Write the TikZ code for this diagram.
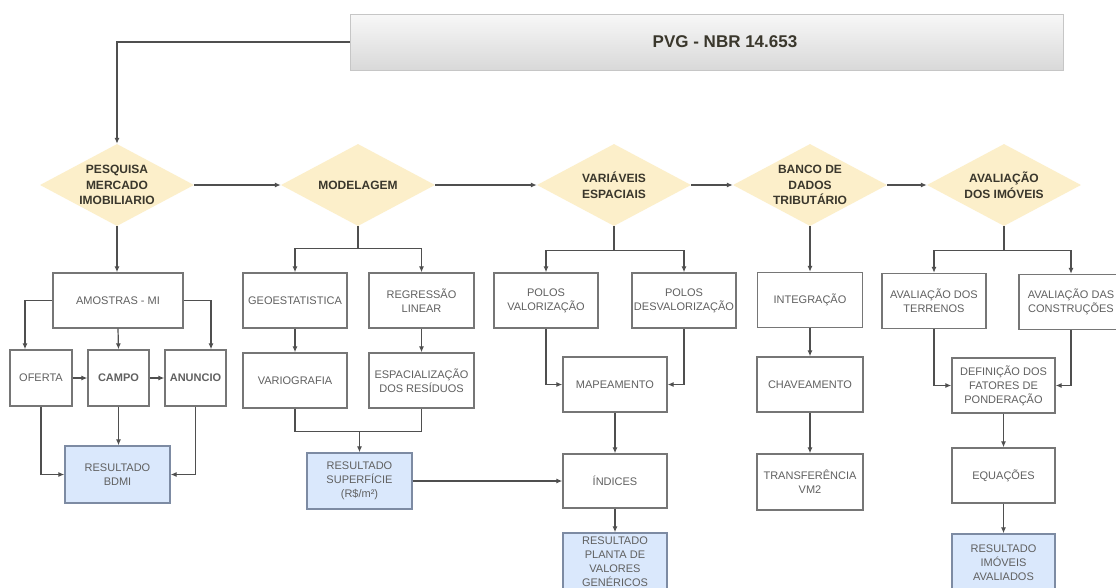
\documentclass[tikz,border=0pt]{standalone}
\usepackage{fontspec}
\setmainfont{Liberation Sans}
\usetikzlibrary{arrows.meta}
\usetikzlibrary{shapes.geometric}

\definecolor{linha}{HTML}{4F4F4F}
\definecolor{bordacx}{HTML}{767676}
\definecolor{textocx}{HTML}{606060}
\definecolor{amarelo}{HTML}{FCEFCA}
\definecolor{textolos}{HTML}{3A372C}
\definecolor{azul}{HTML}{DAE8FC}
\definecolor{bordaaz}{HTML}{7D8BA3}

\begin{document}
\begin{tikzpicture}[x=1pt, y=-1pt,
  caixa/.style={draw=bordacx, line width=1.3pt, fill=white, text=textocx,
    font=\fontsize{11}{14}\selectfont, align=center,
    minimum width=104pt, minimum height=55pt, inner sep=1pt},
  resultado/.style={caixa, fill=azul, draw=bordaaz},
  losango/.style={diamond, fill=amarelo, text=textolos,
    font=\bfseries\fontsize{12}{15.5}\selectfont, align=center,
    minimum width=154pt, minimum height=82pt, inner sep=0pt, aspect=1.9},
  titulo/.style={draw=gray!45, top color=gray!6, bottom color=gray!30,
    minimum width=713pt, minimum height=56pt},
  seta/.style={draw=linha, line width=1.2pt, -{Latex[length=6pt,width=5pt]}},
  liga/.style={draw=linha, line width=1.2pt}]
\useasboundingbox (0,0) rectangle (1116,587);
\clip (0,0) rectangle (1116,587);
\fill[white] (0,0) rectangle (1116,587);

\node[titulo] (titulo) at (706.5,42) {};
\node[text=textolos, font=\bfseries\fontsize{17}{20}\selectfont] (tittexto) at (725,42) {PVG - NBR 14.653};

\node[losango] (pesquisa) at (117,185) {PESQUISA\\MERCADO\\IMOBILIARIO};
\node[losango] (modelagem) at (358,185) {MODELAGEM};
\node[losango] (variaveis) at (614,185) {VARIÁVEIS\\ESPACIAIS};
\node[losango] (banco) at (810,185) {BANCO DE\\DADOS\\TRIBUTÁRIO};
\node[losango] (avaliacao) at (1004,185) {AVALIAÇÃO\\DOS IMÓVEIS};

\draw[seta] (titulo.west) -| (pesquisa.north);
\draw[seta] (pesquisa.east) -- (modelagem.west);
\draw[seta] (modelagem.east) -- (variaveis.west);
\draw[seta] (variaveis.east) -- (banco.west);
\draw[seta] (banco.east) -- (avaliacao.west);

\node[caixa, minimum width=130pt] (amostras) at (118,300.5) {AMOSTRAS - MI};
\node[caixa, minimum width=62pt, minimum height=56pt] (oferta) at (41,378) {OFERTA};
\node[caixa, minimum width=61pt, minimum height=56pt, font=\bfseries\fontsize{11}{14}\selectfont] (campo) at (118.5,378) {CAMPO};
\node[caixa, minimum width=61pt, minimum height=56pt, font=\bfseries\fontsize{11}{14}\selectfont] (anuncio) at (195.5,378) {ANUNCIO};
\node[resultado, minimum width=105pt, minimum height=57pt] (bdmi) at (117.5,474.5) {RESULTADO\\BDMI};

\draw[seta] (pesquisa.south) -- (pesquisa.south |- amostras.north);
\draw[seta] (amostras.west) -| ([xshift=-16pt]oferta.north);
\draw[seta] (amostras.south) -- (campo.north);
\draw[seta] (amostras.east) -| ([xshift=15.5pt]anuncio.north);
\draw[seta] (oferta.east) -- (campo.west);
\draw[seta] (campo.east) -- (anuncio.west);
\draw[seta] (oferta.south) |- (bdmi.west);
\draw[seta] (campo.south) -- (campo.south |- bdmi.north);
\draw[seta] (anuncio.south) |- (bdmi.east);

\node[caixa] (geo) at (295,300.5) {GEOESTATISTICA};
\node[caixa, minimum width=105pt] (regressao) at (421.5,300.5) {REGRESSÃO\\LINEAR};
\node[caixa] (variografia) at (295,380.5) {VARIOGRAFIA};
\node[caixa, minimum width=105pt] (espacial) at (421.5,380.5) {ESPACIALIZAÇÃO\\DOS RESÍDUOS};
\node[resultado, minimum width=105pt, minimum height=56pt] (superficie) at (359.5,481) {RESULTADO\\SUPERFÍCIE\\(R\$/m²)};

\draw[liga] (modelagem.south) -- ++(0,22) coordinate (m1);
\draw[seta] (m1) -| (geo.north);
\draw[seta] (m1) -| (regressao.north);
\draw[seta] (geo.south) -- (variografia.north);
\draw[seta] (regressao.south) -- (espacial.north);
\draw[liga] (variografia.south) -- ++(0,23) coordinate (m2) -| (espacial.south);
\draw[seta] (m2 -| superficie.north) -- (superficie.north);

\node[caixa] (polval) at (546,300.5) {POLOS\\VALORIZAÇÃO};
\node[caixa] (poldes) at (684,300.5) {POLOS\\DESVALORIZAÇÃO};
\node[caixa] (mapeamento) at (615,384.5) {MAPEAMENTO};
\node[caixa, minimum height=54pt] (indices) at (615,481) {ÍNDICES};
\node[resultado, minimum height=58pt] (planta) at (615,562) {RESULTADO\\PLANTA DE\\VALORES\\GENÉRICOS};

\draw[liga] (variaveis.south) -- ++(0,24) coordinate (v1);
\draw[seta] (v1) -| (polval.north);
\draw[seta] (v1) -| (poldes.north);
\draw[seta] (polval.south) |- (mapeamento.west);
\draw[seta] (poldes.south) |- (mapeamento.east);
\draw[seta] (mapeamento.south) -- (indices.north);
\draw[seta] (superficie.east) -- (indices.west);
\draw[seta] (indices.south) -- (planta.north);

\node[caixa, minimum width=105pt] (integracao) at (810,300) {INTEGRAÇÃO};
\node[caixa, minimum width=106pt] (chaveamento) at (810,384.5) {CHAVEAMENTO};
\node[caixa, minimum width=106pt, minimum height=56pt] (transferencia) at (810,482) {TRANSFERÊNCIA\\VM2};

\draw[seta] (banco.south) -- (integracao.north);
\draw[seta] (integracao.south) -- (chaveamento.north);
\draw[seta] (chaveamento.south) -- (transferencia.north);

\node[caixa] (terrenos) at (934,301) {AVALIAÇÃO DOS\\TERRENOS};
\node[caixa] (construcoes) at (1071,302) {AVALIAÇÃO DAS\\CONSTRUÇÕES};
\node[caixa, minimum width=103pt] (definicao) at (1003.5,385.5) {DEFINIÇÃO DOS\\FATORES DE\\PONDERAÇÃO};
\node[caixa, minimum width=103pt] (equacoes) at (1003.5,475.5) {EQUAÇÕES};
\node[resultado, minimum width=103pt, minimum height=58pt] (imoveis) at (1003.5,563) {RESULTADO\\IMÓVEIS\\AVALIADOS};

\draw[liga] (avaliacao.south) -- ++(0,24) coordinate (a1);
\draw[seta] (a1) -| (terrenos.north);
\draw[seta] (a1) -| (construcoes.north);
\draw[seta] (terrenos.south) |- (definicao.west);
\draw[seta] (construcoes.south) |- (definicao.east);
\draw[seta] (definicao.south) -- (equacoes.north);
\draw[seta] (equacoes.south) -- (imoveis.north);
\end{tikzpicture}
\end{document}
